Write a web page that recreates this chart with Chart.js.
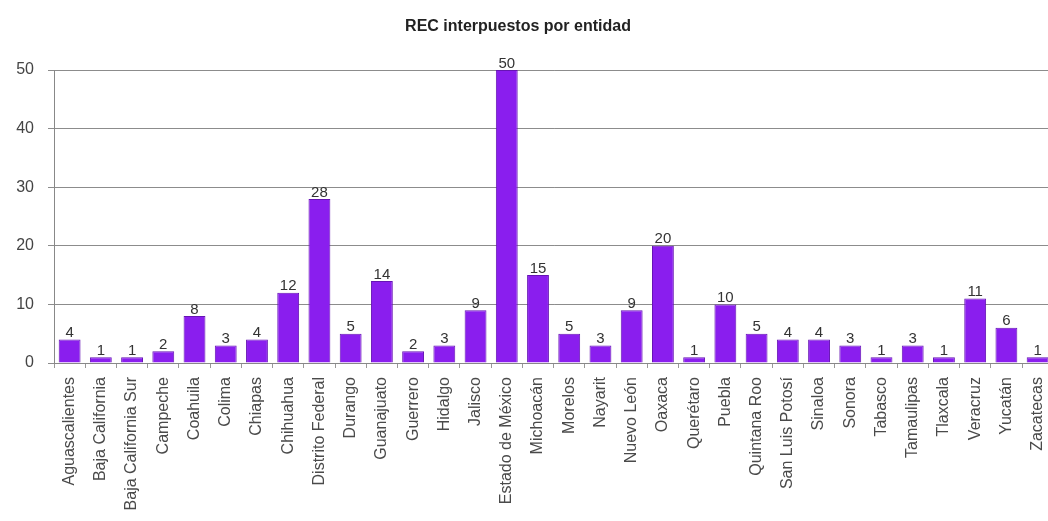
<!DOCTYPE html>
<html>
<head>
<meta charset="utf-8">
<script src="https://cdn.jsdelivr.net/npm/chart.js@4.4.1/dist/chart.umd.min.js"></script>
<style>
  html, body { margin: 0; padding: 0; background: #fff; overflow: hidden; }
  #wrap { width: 1066px; height: 521px; }
</style>
</head>
<body>
<div id="wrap"><canvas id="chart" width="1066" height="521"></canvas></div>
<script>
// ---- data ----
const estados = [
  'Aguascalientes', 'Baja California', 'Baja California Sur', 'Campeche', 'Coahuila',
  'Colima', 'Chiapas', 'Chihuahua', 'Distrito Federal', 'Durango', 'Guanajuato',
  'Guerrero', 'Hidalgo', 'Jalisco', 'Estado de México', 'Michoacán', 'Morelos',
  'Nayarit', 'Nuevo León', 'Oaxaca', 'Querétaro', 'Puebla', 'Quintana Roo',
  'San Luis Potosí', 'Sinaloa', 'Sonora', 'Tabasco', 'Tamaulipas', 'Tlaxcala',
  'Veracruz', 'Yucatán', 'Zacatecas'
];
const recs = [4, 1, 1, 2, 8, 3, 4, 12, 28, 5, 14, 2, 3, 9, 50, 15, 5, 3, 9, 20, 1, 10, 5, 4, 4, 3, 1, 3, 1, 11, 6, 1];
const yTicks = [0, 10, 20, 30, 40, 50];
const titulo = 'REC interpuestos por entidad';

const FONT = '"Liberation Sans", Arial, sans-serif';

// bar fill: a bit of side shading like the old 3D office charts
function barFill(ctx) {
  const el = ctx.element;
  if (!el || !el.width) return '#8A1EEE';
  const x0 = el.x - el.width / 2, x1 = el.x + el.width / 2;
  const g = ctx.chart.ctx.createLinearGradient(x0, 0, x1, 0);
  g.addColorStop(0, '#8E25F0');
  g.addColorStop(0.7, '#8A1EEE');
  g.addColorStop(0.85, '#7417CF');
  g.addColorStop(1, '#5A0FA6');
  return g;
}

// title + value labels on top of each bar
const decor = {
  id: 'decor',
  afterDatasetsDraw(chart) {
    const { ctx } = chart;
    const meta = chart.getDatasetMeta(0);
    ctx.save();
    ctx.font = `15px ${FONT}`;
    ctx.fillStyle = '#333';
    ctx.textAlign = 'center';
    ctx.textBaseline = 'bottom';
    meta.data.forEach((bar, i) => {
      ctx.fillText(String(recs[i]), bar.x, bar.y + 1);
    });
    ctx.font = `bold 16px ${FONT}`;
    ctx.fillStyle = '#222';
    ctx.textBaseline = 'middle';
    ctx.fillText(titulo, 518, 27);
    ctx.restore();
  }
};

new Chart(document.getElementById('chart'), {
  type: 'bar',
  data: {
    labels: estados,
    datasets: [{
      data: recs,
      backgroundColor: barFill,
      borderColor: '#6614B4',
      borderWidth: 1,
      barPercentage: 0.7,
      categoryPercentage: 1.0,
    }]
  },
  options: {
    responsive: false,
    animation: false,
    layout: { padding: { left: 0, right: 11, top: 70, bottom: 0 } },
    plugins: {
      legend: { display: false },
      tooltip: { enabled: false },
      title: { display: false }
    },
    scales: {
      x: {
        afterFit: axis => { axis.height = 158; },
        grid: { display: true, drawOnChartArea: false, offset: true, color: '#999', tickLength: 5 },
        border: { color: '#888' },
        ticks: {
          autoSkip: false,
          minRotation: 90,
          maxRotation: 90,
          color: '#4a4a4a',
          padding: 9,
          font: { family: FONT, size: 16 }
        }
      },
      y: {
        min: 0,
        max: 50,
        afterBuildTicks: axis => { axis.ticks = yTicks.map(v => ({ value: v })); },
        afterFit: axis => { axis.width = 54; },
        grid: { color: '#8c8c8c', tickLength: 6 },
        border: { color: '#888' },
        ticks: {
          color: '#444',
          padding: 14,
          font: { family: FONT, size: 16 }
        }
      }
    }
  },
  plugins: [decor]
});
</script>
</body>
</html>
